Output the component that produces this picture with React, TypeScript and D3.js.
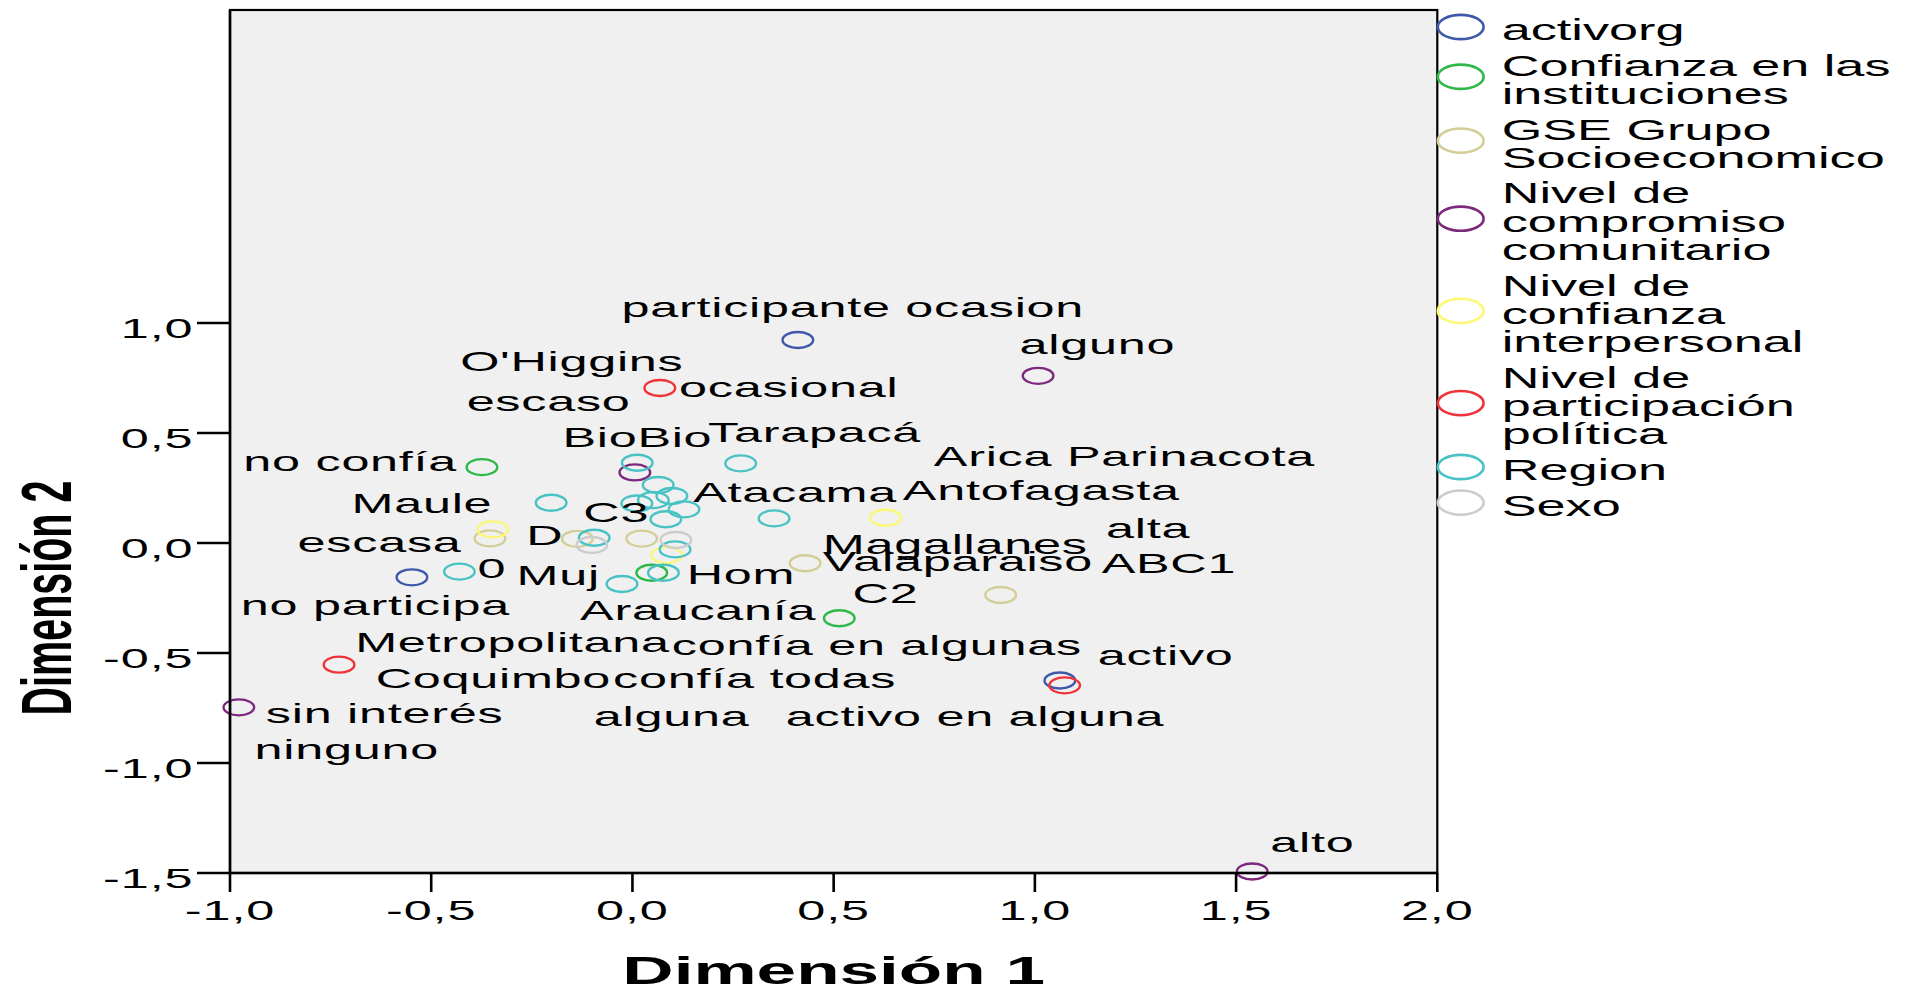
import React from "react";
import * as d3 from "d3";

// ---------- data ----------
const seriesNames = [
  "activorg",
  "Confianza en las instituciones",
  "GSE Grupo Socioeconomico",
  "Nivel de compromiso comunitario",
  "Nivel de confianza interpersonal",
  "Nivel de participación política",
  "Region",
  "Sexo",
];
const legendLines = [
  ["activorg"],
  ["Confianza en las", "instituciones"],
  ["GSE Grupo", "Socioeconomico"],
  ["Nivel de", "compromiso", "comunitario"],
  ["Nivel de", "confianza", "interpersonal"],
  ["Nivel de", "participación", "política"],
  ["Region"],
  ["Sexo"],
];
const seriesColors = ["#3E58AC", "#2EB848", "#D3CE97", "#7C287D", "#FBF873", "#EF3338", "#48C2C5", "#CCCCCC"];

const activorgPts: [number, number][] = [[0.411, 0.923], [-0.548, -0.156], [1.062, -0.625]];
const confianzaPts: [number, number][] = [[-0.374, 0.345], [0.048, -0.135], [0.514, -0.342]];
const gsePts: [number, number][] = [[-0.354, 0.021], [-0.137, 0.019], [0.023, 0.02], [0.429, -0.092], [0.915, -0.236]];
const compromisoPts: [number, number][] = [[0.006, 0.321], [1.008, 0.76], [-0.978, -0.747], [1.54, -1.493]];
const confInterPts: [number, number][] = [[-0.347, 0.062], [0.629, 0.115], [0.085, -0.055]];
const participacionPts: [number, number][] = [[0.068, 0.705], [-0.729, -0.553], [1.074, -0.647]];
const regionPts: [number, number][] = [
  [0.012, 0.365], [0.269, 0.362], [0.064, 0.264], [0.098, 0.214], [-0.202, 0.183],
  [0.011, 0.18], [0.052, 0.195], [0.128, 0.153], [0.083, 0.108], [0.352, 0.112],
  [-0.095, 0.024], [0.106, -0.029], [0.077, -0.135], [-0.026, -0.186], [-0.43, -0.13],
];
const sexoPts: [number, number][] = [[-0.101, -0.009], [0.108, 0.014]];
const seriesPoints = [activorgPts, confianzaPts, gsePts, compromisoPts, confInterPts, participacionPts, regionPts, sexoPts];

const labelTexts = [
  "participante ocasion", "alguno", "O'Higgins", "escaso", "ocasional", "BioBio", "Tarapacá",
  "no confía", "Arica Parinacota", "Atacama", "Antofagasta", "Maule", "C3", "alta", "escasa", "D",
  "Magallanes", "Valaparaiso", "ABC1", "0", "Muj", "Hom", "no participa", "Araucanía", "C2",
  "Metropolitana", "confía en algunas", "activo", "Coquimbo", "confía todas", "sin interés",
  "alguna", "activo en alguna", "ninguno", "alto",
];
const labelX = [
  -0.027, 0.962, -0.428, -0.412, 0.116, -0.174, 0.188,
  -0.967, 0.749, 0.151, 0.672, -0.698, -0.122, 1.177, -0.832, -0.264,
  0.473, 0.473, 1.166, -0.385, -0.288, 0.135, -0.973, -0.13, 0.547,
  -0.689, 0.098, 1.156, -0.638, -0.048, -0.911,
  -0.096, 0.381, -0.939, 1.585,
];
const labelY = [
  1.027, 0.86, 0.784, 0.6, 0.665, 0.438, 0.46,
  0.329, 0.349, 0.188, 0.195, 0.135, 0.097, 0.025, -0.043, -0.009,
  -0.05, -0.126, -0.138, -0.16, -0.191, -0.188, -0.329, -0.35, -0.271,
  -0.497, -0.511, -0.553, -0.658, -0.658, -0.82,
  -0.831, -0.831, -0.981, -1.404,
];

const xTicks = [-1.0, -0.5, 0.0, 0.5, 1.0, 1.5, 2.0];
const yTicks = [-1.5, -1.0, -0.5, 0.0, 0.5, 1.0];
const xTitle = "Dimensión 1";
const yTitle = "Dimensión 2";

// ---------- layout ----------
const W = 1913;
const H = 992;
const left = 230;
const right = 1437.3;
const top = 10;
const bottom = 873;
const SX = 1.8; // horizontal glyph stretch of the reference
const FONT = "'Liberation Sans', Arial, Helvetica, sans-serif";

const fmt = (v: number) => d3.format(".1f")(v).replace(".", ",").replace("\u2212", "-");

export default function App() {
  const x = d3.scaleLinear().domain([-1, 2]).range([left, right]);
  const y = d3.scaleLinear().domain([-1.5, 2.423]).range([bottom, top]);

  // legend layout
  const legendX = 1460.7;
  const legendTextX = 1501.7;
  const lineH = 28.3;
  const itemGap = 35.6;
  let base = 40;
  const legendItems = legendLines.map((lines, i) => {
    const first = base;
    const last = base + (lines.length - 1) * lineH;
    const cy = (first + last) / 2 - 13;
    base = last + itemGap;
    return { lines, first, cy, color: seriesColors[i], name: seriesNames[i] };
  });

  return (
    <svg
      width={W}
      height={H}
      style={{ position: "absolute", left: 0, top: 0, background: "#fff" }}
      fontFamily={FONT}
    >
      {/* plot background */}
      <rect x={left} y={top} width={right - left} height={bottom - top} fill="#F0F0F0" />
      <rect x={left} y={top} width={right - left} height={bottom - top} fill="none" stroke="#000" strokeWidth={2.2} />

      {/* points */}
      {seriesPoints.map((pts, si) =>
        pts.map((p, pi) => (
          <ellipse
            key={`p-${si}-${pi}`}
            cx={x(p[0])}
            cy={y(p[1])}
            rx={15.3}
            ry={8}
            fill="none"
            stroke={seriesColors[si]}
            strokeWidth={2.4}
          />
        ))
      )}

      {/* labels */}
      {labelTexts.map((t, i) => (
        <text
          key={`l-${i}`}
          transform={`translate(${x(labelX[i])},${y(labelY[i])}) scale(${SX},1)`}
          fontSize={28}
          letterSpacing={0.4}
          fill="#000"
        >
          {t}
        </text>
      ))}

      {/* axes lines */}
      <line x1={left} x2={left} y1={top} y2={bottom} stroke="#000" strokeWidth={2.6} />
      <line x1={left} x2={right} y1={bottom} y2={bottom} stroke="#000" strokeWidth={2.6} />

      {/* x ticks */}
      {xTicks.map((v) => (
        <g key={`xt-${v}`}>
          <line x1={x(v)} x2={x(v)} y1={bottom} y2={bottom + 19} stroke="#000" strokeWidth={2.6} />
          <text
            transform={`translate(${x(v)},${920}) scale(${SX},1)`}
            textAnchor="middle"
            fontSize={28}
            letterSpacing={0.5}
          >
            {fmt(v)}
          </text>
        </g>
      ))}

      {/* y ticks */}
      {yTicks.map((v) => (
        <g key={`yt-${v}`}>
          <line x1={left - 33} x2={left} y1={y(v)} y2={y(v)} stroke="#000" strokeWidth={2.6} />
          <text
            transform={`translate(${193.5},${y(v) + 15}) scale(${SX},1)`}
            textAnchor="end"
            fontSize={28}
            letterSpacing={0.5}
          >
            {fmt(v)}
          </text>
        </g>
      ))}

      {/* axis titles */}
      <text
        transform={`translate(${(left + right) / 2},${984}) scale(${SX},1)`}
        textAnchor="middle"
        fontSize={39.5}
        fontWeight="bold"
      >
        {xTitle}
      </text>
      <text
        transform={`translate(${71},${y(-0.25)}) scale(${SX},1) rotate(-90)`}
        textAnchor="middle"
        fontSize={39.5}
        fontWeight="bold"
      >
        {yTitle}
      </text>

      {/* legend */}
      {legendItems.map((it, i) => (
        <g key={`lg-${i}`}>
          <ellipse cx={legendX} cy={it.cy} rx={22.9} ry={12.1} fill="none" stroke={it.color} strokeWidth={2.6} />
          {it.lines.map((ln, j) => (
            <text
              key={`lgt-${i}-${j}`}
              transform={`translate(${legendTextX},${it.first + j * lineH}) scale(${SX},1)`}
              fontSize={29}
            >
              {ln}
            </text>
          ))}
        </g>
      ))}
    </svg>
  );
}
